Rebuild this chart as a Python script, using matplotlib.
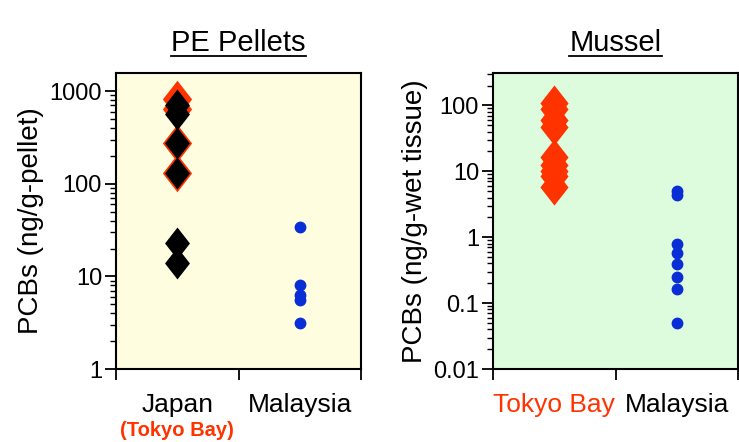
import numpy as np
import matplotlib
matplotlib.use("Agg")
import matplotlib.pyplot as plt
from matplotlib.path import Path
from matplotlib.lines import Line2D

plt.rcParams['font.family'] = ['Liberation Sans', 'DejaVu Sans']

# PE pellets (ng/g-pellet)
pellet_tokyo_red = [830, 640, 275, 130]
pellet_japan_black = [700, 560, 275, 130, 23, 14]
pellet_malaysia = [34, 8.0, 6.3, 5.5, 3.1]

# Mussel (ng/g-wet tissue)
mussel_tokyo = [108, 88, 60, 47, 16.5, 12.5, 10, 8.5, 5.8]
mussel_malaysia = [5.0, 4.3, 0.78, 0.58, 0.39, 0.25, 0.165, 0.05]

cats_pellet = ['Japan', 'Malaysia']
cats_mussel = ['Tokyo Bay', 'Malaysia']

RED = '#ff3300'
BLUE = '#0a2ed6'

# tall diamond
diamond = Path([(0, 1), (0.78, 0), (0, -1), (-0.78, 0), (0, 1)],
               [Path.MOVETO, Path.LINETO, Path.LINETO, Path.LINETO, Path.CLOSEPOLY])

W, H = 739, 442
fig = plt.figure(figsize=(W / 100, H / 100), dpi=100)
ax1 = fig.add_axes([116 / W, 73 / H, 245 / W, 296 / H])
ax2 = fig.add_axes([493 / W, 73 / H, 245 / W, 296 / H])


def style(ax, ylim, bg):
    ax.set_facecolor(bg)
    ax.set_yscale('log')
    ax.set_ylim(*ylim)
    ax.set_xlim(0, 2)
    ax.set_xticks([0, 1, 2])
    ax.set_xticklabels([])
    for s in ax.spines.values():
        s.set_linewidth(1.5)
    ax.tick_params(axis='both', which='major', direction='out', length=8, width=1.3,
                   labelsize=17, pad=2)
    ax.tick_params(axis='y', which='minor', direction='out', length=4, width=1.0)
    ax.yaxis.set_minor_formatter(matplotlib.ticker.NullFormatter())


style(ax1, (1, 1570), '#fffde0')
ax1.yaxis.set_major_locator(matplotlib.ticker.FixedLocator([1, 10, 100, 1000]))
ax1.set_yticklabels(['1', '10', '100', '1000'])
ax1.yaxis.set_minor_locator(matplotlib.ticker.LogLocator(base=10, subs=np.arange(2, 10)))

ax1.plot([0.5] * len(pellet_tokyo_red), pellet_tokyo_red, ls='none', marker=diamond,
         ms=27, mfc=RED, mec=RED, mew=0, zorder=3)
ax1.plot([0.5] * len(pellet_japan_black), pellet_japan_black, ls='none', marker=diamond,
         ms=23, mfc='black', mec='black', mew=0, zorder=4)
ax1.plot([1.5] * len(pellet_malaysia), pellet_malaysia, ls='none', marker='o',
         ms=7.5, mfc=BLUE, mec=BLUE, zorder=3)
ax1.set_ylabel('PCBs (ng/g-pellet)', fontsize=20, labelpad=4)

style(ax2, (0.01, 310), '#ddfcdd')
ax2.yaxis.set_major_locator(matplotlib.ticker.FixedLocator([0.01, 0.1, 1, 10, 100]))
ax2.set_yticklabels(['0.01', '0.1', '1', '10', '100'])
ax2.yaxis.set_minor_locator(matplotlib.ticker.LogLocator(base=10, subs=np.arange(2, 10)))

ax2.plot([0.5] * len(mussel_tokyo), mussel_tokyo, ls='none', marker=diamond,
         ms=26, mfc=RED, mec=RED, mew=0, zorder=3)
ax2.plot([1.5] * len(mussel_malaysia), mussel_malaysia, ls='none', marker='o',
         ms=7.5, mfc=BLUE, mec=BLUE, zorder=3)
ax2.set_ylabel('PCBs (ng/g-wet tissue)', fontsize=20, labelpad=4)

# category labels between the ticks
for ax, cats, cols in [(ax1, cats_pellet, ['black', 'black']),
                       (ax2, cats_mussel, [RED, 'black'])]:
    for i, (c, col) in enumerate(zip(cats, cols)):
        ax.text(i + 0.5, -0.145, c, transform=ax.get_xaxis_transform(),
                ha='center', va='baseline', fontsize=19, color=col)
ax1.text(0.5, -0.225, '(Tokyo Bay)', transform=ax1.get_xaxis_transform(),
         ha='center', va='baseline', fontsize=14.5, fontweight='bold', color=RED)

# underlined titles
titles = []
for ax, t in [(ax1, 'PE Pellets'), (ax2, 'Mussel')]:
    titles.append(ax.text(0.5, 1.074, t, transform=ax.transAxes, ha='center',
                          va='baseline', fontsize=21))
fig.canvas.draw()
r = fig.canvas.get_renderer()
for t in titles:
    bb = t.get_window_extent(r)
    y = bb.y0 + 1
    fig.add_artist(Line2D([bb.x0 / W, bb.x1 / W], [y / H, y / H], color='black',
                          lw=1.3, transform=fig.transFigure))

fig.savefig('out.png', dpi=100)
